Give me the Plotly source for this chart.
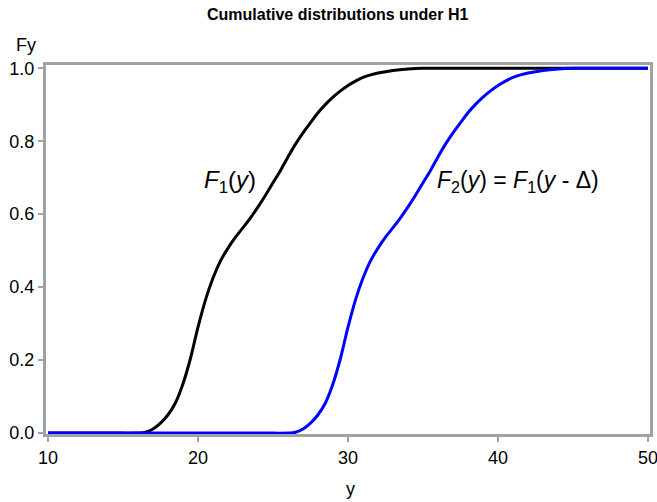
import plotly.graph_objects as go

# F1(y): black curve
y1 = [10.0, 14.0, 16.0, 16.5, 17.0, 17.5, 18.0, 18.5, 19.0, 19.5, 20.0, 20.5, 21.0, 21.5,
      22.0, 22.5, 23.0, 23.5, 24.0, 24.5, 25.0, 25.5, 26.0, 26.5, 27.0, 27.5, 28.0, 28.5,
      29.0, 29.5, 30.0, 30.5, 31.0, 31.5, 32.0, 33.0, 34.0, 35.0, 40.0, 50.0]
F1 = [0.0, 0.0, 0.0, 0.002, 0.011, 0.027, 0.05, 0.083, 0.135, 0.205, 0.29, 0.365, 0.425, 0.472,
      0.507, 0.537, 0.563, 0.59, 0.62, 0.652, 0.686, 0.72, 0.757, 0.792, 0.823, 0.851, 0.878, 0.901,
      0.921, 0.938, 0.953, 0.965, 0.975, 0.982, 0.987, 0.994, 0.998, 1.0, 1.0, 1.0]

# F2(y) = F1(y - delta): blue curve
y2 = [10.0, 24.0, 26.0, 26.5, 27.0, 27.5, 28.0, 28.5, 29.0, 29.5, 30.0, 30.5, 31.0, 31.5,
      32.0, 32.5, 33.0, 33.5, 34.0, 34.5, 35.0, 35.5, 36.0, 36.5, 37.0, 37.5, 38.0, 38.5,
      39.0, 39.5, 40.0, 40.5, 41.0, 41.5, 42.0, 43.0, 44.0, 45.0, 48.0, 50.0]
F2 = [0.0, 0.0, 0.0, 0.002, 0.011, 0.027, 0.05, 0.083, 0.135, 0.205, 0.29, 0.365, 0.425, 0.472,
      0.507, 0.537, 0.563, 0.59, 0.62, 0.652, 0.686, 0.72, 0.757, 0.792, 0.823, 0.851, 0.878, 0.901,
      0.921, 0.938, 0.953, 0.965, 0.975, 0.982, 0.987, 0.994, 0.998, 1.0, 1.0, 1.0]

x_ticks = [10, 20, 30, 40, 50]
y_ticks = [0.0, 0.2, 0.4, 0.6, 0.8, 1.0]
y_tick_labels = ["0.0", "0.2", "0.4", "0.6", "0.8", "1.0"]

FONT = "Arial, Liberation Sans, sans-serif"
GREY = "#a0a3a6"

fig = go.Figure()
fig.add_trace(go.Scatter(x=y1, y=F1, mode="lines",
                         line=dict(color="#000000", width=3, shape="spline", smoothing=1),
                         hoverinfo="skip", showlegend=False))
fig.add_trace(go.Scatter(x=y2, y=F2, mode="lines",
                         line=dict(color="#0000ff", width=3, shape="spline", smoothing=1),
                         hoverinfo="skip", showlegend=False))

L, R, T, B = 46, 7, 65, 68
W, H = 657, 502
pw = W - L - R
ph = H - T - B

fig.update_layout(
    width=W, height=H,
    margin=dict(l=L, r=R, t=T, b=B, autoexpand=False),
    paper_bgcolor="white", plot_bgcolor="white",
    font=dict(family=FONT, size=18, color="#000000"),
    showlegend=False,
    xaxis=dict(range=[10 - 2 / 15, 50 + 2 / 15], tickvals=x_ticks, automargin=False,
               ticklabeloverflow="allow",
               showgrid=False, zeroline=False,
               showline=True, mirror=True, linecolor=GREY, linewidth=3,
               ticks="outside", ticklen=5, tickwidth=2, tickcolor=GREY,
               tickfont=dict(family=FONT, size=18, color="#000000")),
    yaxis=dict(range=[-1 / 365, 1 + 3.3 / 365], tickvals=y_ticks, ticktext=y_tick_labels,
               automargin=False, ticklabeloverflow="allow",
               showgrid=False, zeroline=False,
               showline=True, mirror=True, linecolor=GREY, linewidth=3,
               ticks="outside", ticklen=5, tickwidth=2, tickcolor=GREY,
               tickfont=dict(family=FONT, size=18, color="#000000")),
    annotations=[
        dict(text="<b>Cumulative distributions under H1</b>", xref="paper", yref="paper",
             x=(337 - L) / pw, y=(H - B - 14) / ph, xanchor="center", yanchor="middle",
             showarrow=False, font=dict(family=FONT, size=16, color="#000000")),
        dict(text="Fy", xref="paper", yref="paper",
             x=(38 - L) / pw, y=(H - B - 45) / ph, xanchor="right", yanchor="middle",
             showarrow=False, font=dict(family=FONT, size=18, color="#000000")),
        dict(text="y", xref="paper", yref="paper",
             x=(350 - L) / pw, y=(H - B - 489) / ph, xanchor="center", yanchor="middle",
             showarrow=False, font=dict(family=FONT, size=18, color="#000000")),
        dict(text="<i>F</i><sub>1</sub>(<i>y</i>)", xref="x", yref="y",
             x=20.27, y=0.69, xanchor="left", yanchor="middle", showarrow=False,
             font=dict(family=FONT, size=24, color="#000000")),
        dict(text="<i>F</i><sub>2</sub>(<i>y</i>) = <i>F</i><sub>1</sub>(<i>y</i> - \u0394)",
             xref="x", yref="y",
             x=35.8, y=0.69, xanchor="left", yanchor="middle", showarrow=False,
             font=dict(family=FONT, size=23, color="#000000")),
    ],
)

fig.write_html("out.html", config={"displayModeBar": False},
               post_script="document.body.style.margin='0';document.body.style.padding='0';")
